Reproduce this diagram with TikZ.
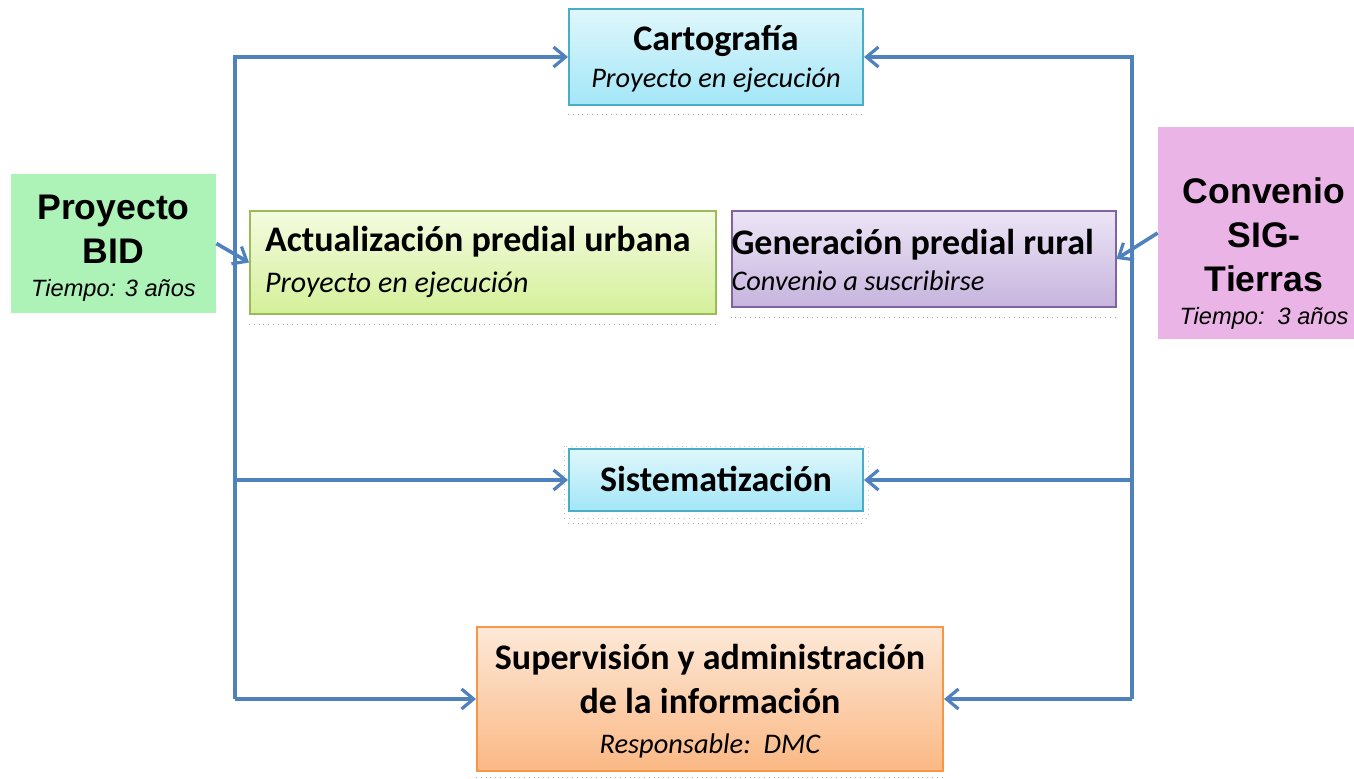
\documentclass[tikz,border=0pt]{standalone}
\usepackage{xcolor}
\usepackage{fontspec}
\setmainfont{Carlito}
\newfontfamily\arialfont{Liberation Sans}
\usepackage{tikz}
\usetikzlibrary{arrows.meta, positioning}

\definecolor{linkblue}{HTML}{4F81BD}
\definecolor{cyanline}{HTML}{4BACC6}
\definecolor{cyantop}{HTML}{DFF7FC}
\definecolor{cyanbot}{HTML}{A3E6F7}
\definecolor{greenline}{HTML}{9BBB59}
\definecolor{greentop}{HTML}{F4FBDF}
\definecolor{greenbot}{HTML}{D4F09A}
\definecolor{purpleline}{HTML}{8064A2}
\definecolor{purpletop}{HTML}{ECE5F6}
\definecolor{purplebot}{HTML}{C7B4DE}
\definecolor{orangeline}{HTML}{F79646}
\definecolor{orangetop}{HTML}{FDE9D8}
\definecolor{orangebot}{HTML}{FBB884}
\definecolor{bidfill}{HTML}{ADF2B6}
\definecolor{sigfill}{HTML}{EBB4E6}

\newcommand{\boxtitle}{\bfseries\fontsize{18}{19}\selectfont}
\newcommand{\boxnote}{\mdseries\itshape\fontsize{14.2}{19}\selectfont}
\newcommand{\fundtitle}{\bfseries\fontsize{17.8}{21.5}\selectfont}
\newcommand{\fundnote}{\mdseries\itshape\fontsize{11.8}{16}\selectfont}

\begin{document}
\begin{tikzpicture}[x=0.5pt, y=-0.5pt]
\tikzstyle{cyanbox} = [rectangle, draw=cyanline, line width=1pt, top color=cyantop, bottom color=cyanbot, align=center, inner sep=0pt, text depth=0pt]
\tikzstyle{greenbox} = [rectangle, draw=greenline, line width=1pt, top color=greentop, bottom color=greenbot, align=flush left, inner sep=0pt]
\tikzstyle{purplebox} = [rectangle, draw=purpleline, line width=1pt, top color=purpletop, bottom color=purplebot, align=flush left, inner sep=0pt]
\tikzstyle{orangebox} = [rectangle, draw=orangeline, line width=1pt, top color=orangetop, bottom color=orangebot, align=center, inner sep=0pt, text depth=0pt]
\tikzstyle{fundbox} = [rectangle, align=center, inner sep=0pt, text depth=0pt]
\tikzstyle{flow} = [draw=linkblue, line width=1.8pt, -{Straight Barb[length=6pt, width=10pt, line width=1.6pt]}]
\tikzstyle{dotline} = [draw=gray!70, line width=0.4pt, dotted]

\useasboundingbox (0,0) rectangle (1354,779);

% proyectos
\node (cart) [cyanbox, minimum width=147pt, minimum height=48pt, text height=30.5pt, font=\fontsize{18}{18.5}\selectfont] at (716,57) {%
\boxtitle Cartografía\\\boxnote Proyecto en ejecución};
\node (act) [greenbox, minimum width=233pt, minimum height=51.5pt, text width=218pt, text height=10pt, text depth=20.5pt, font=\fontsize{18}{20.5}\selectfont] at (483,262.5) {%
\boxtitle Actualización predial urbana\\\boxnote\fontsize{15}{19}\selectfont Proyecto en ejecución};
\node (gen) [purplebox, minimum width=190.5pt, minimum height=48pt, text width=192pt, text height=14pt, text depth=18pt, font=\fontsize{18}{18}\selectfont] at (923.5,259) {%
\boxtitle Generación predial rural\\\boxnote Convenio a suscribirse};
\node (sis) [cyanbox, minimum width=147pt, minimum height=31pt, text height=12pt] at (716,480) {%
\boxtitle Sistematización};
\node (sup) [orangebox, minimum width=233pt, minimum height=72pt, text height=55pt, font=\fontsize{18}{22}\selectfont] at (710,699) {%
\boxtitle Supervisión y administración\\\boxtitle de la información\\[-1.5pt]\boxnote Responsable:\ \ DMC};

% financiamiento
\node (bid) [fundbox, fill=bidfill, minimum width=102.5pt, minimum height=69.5pt, text height=53.5pt, font=\arialfont\fontsize{17.8}{22}\selectfont] at (113.5,243.5) {%
\fundtitle Proyecto\\\fundtitle BID\\[-5.5pt]\fundnote Tiempo: 3 años};
\node (sig) [fundbox, fill=sigfill, minimum width=98pt, minimum height=106pt, text height=92pt, font=\arialfont\fontsize{17.8}{22}\selectfont] at (1256,233) {%
\fundtitle \hspace*{8pt}Convenio\\\fundtitle \hspace*{8pt}SIG-\\\fundtitle \hspace*{8pt}Tierras\\[-5.5pt]\fundnote \hspace*{8pt}Tiempo:\ \ 3 años};

% lineas punteadas bajo las cajas
\draw[dotline] ([yshift=-4pt]cart.south west) -- ([yshift=-4pt]cart.south east);
\draw[dotline] ([yshift=-4.5pt]act.south west) -- ([yshift=-4.5pt]act.south east);
\draw[dotline] ([yshift=-4.5pt]gen.south west) -- ([yshift=-4.5pt]gen.south east);
\draw[dotline, draw=gray!45] ([shift={(-2pt,1pt)}]sis.north west) rectangle ([shift={(2pt,-3pt)}]sis.south east);
\draw[dotline] ([yshift=-5.5pt]sis.south west) -- ([yshift=-5.5pt]sis.south east);
\draw[dotline] ([yshift=-2.5pt]sup.south west) -- ([yshift=-2.5pt]sup.south east);

% conexiones
\coordinate (lbus) at (235,699);
\coordinate (rbus) at (1132,699);

\draw[flow] (lbus) |- (cart.west);
\draw[flow] (lbus) |- (sis.west);
\draw[flow] (lbus) -- (sup.west);
\draw[flow] (rbus) |- (cart.east);
\draw[flow] (rbus) |- (sis.east);
\draw[flow] (rbus) -- (sup.east);
\draw[flow] (bid.east) -- (act.west);
\draw[flow] (sig.west) -- (gen.east);

\end{tikzpicture}
\end{document}
